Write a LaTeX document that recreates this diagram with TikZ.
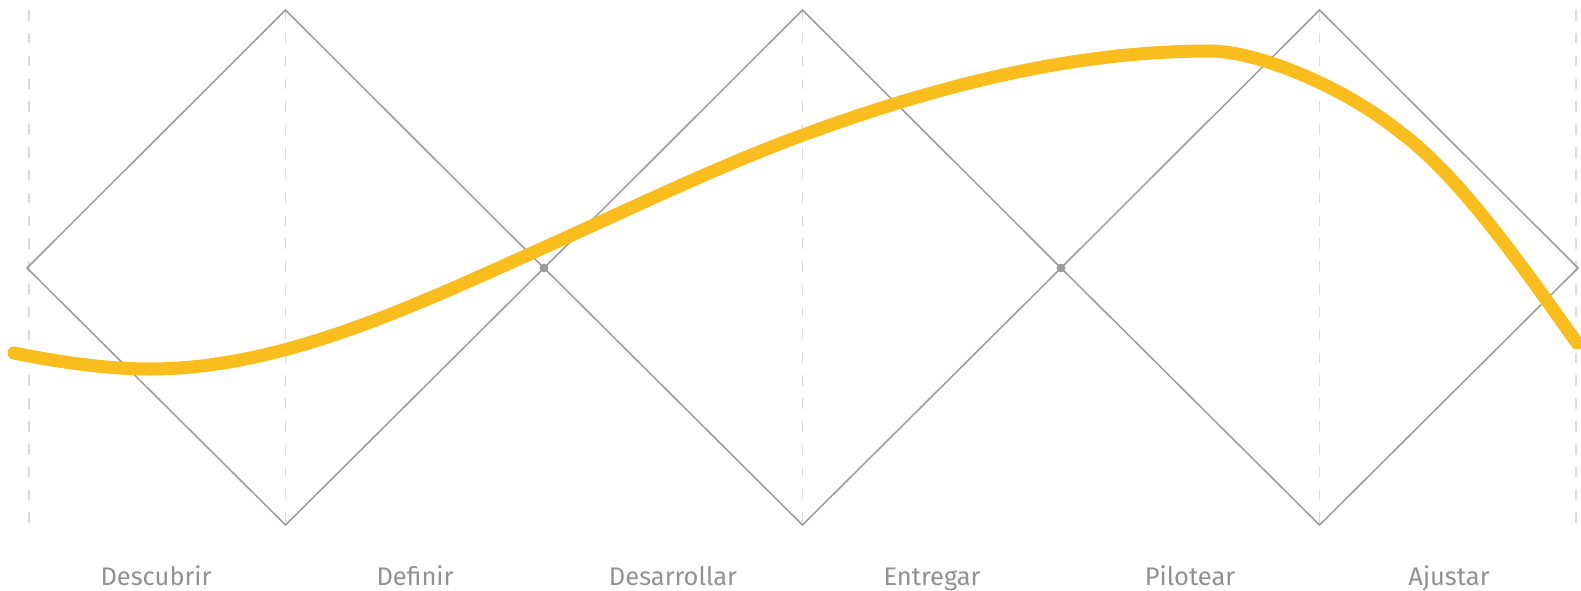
\documentclass[tikz,border=0pt]{standalone}
\usepackage{fontspec}
\setmainfont{Fira Sans}
\usetikzlibrary{calc}
\usepackage{xcolor}
\definecolor{journeyyellow}{RGB}{250,189,30}
\definecolor{diamgray}{RGB}{155,155,155}
\definecolor{guidegray}{RGB}{218,218,218}
\definecolor{phasegray}{RGB}{145,145,145}

\begin{document}
\begin{tikzpicture}[
  x=0.02cm, y=-0.02cm,
  diam/.style={draw=diamgray, line width=0.85pt, line join=miter},
  guide/.style={draw=guidegray, line width=0.6pt, dash pattern=on 6pt off 7pt},
  journey/.style={draw=journeyyellow, line width=7.4pt, line cap=round},
  joint/.style={circle, fill=diamgray, inner sep=0pt, minimum size=5pt},
  phase/.style={text=phasegray, font=\fontsize{14.5}{16}\selectfont, anchor=base}
]
\useasboundingbox (0,0) rectangle (1581,591);

\coordinate (v0) at (27,268);
\coordinate (t1) at (285.5,10);
\coordinate (b1) at (285.5,525);
\coordinate (v1) at (544,268);
\coordinate (t2) at (802.5,10);
\coordinate (b2) at (802.5,525);
\coordinate (v2) at (1061,268);
\coordinate (t3) at (1319.5,10);
\coordinate (b3) at (1319.5,525);
\coordinate (v3) at (1578,268);

\foreach \gx in {29,285.5,802.5,1319.5,1576}
  \draw[guide] (\gx,10) -- (\gx,525);

\draw[diam] (v0) -- (t1) -- (v1) -- (b1) -- cycle;
\draw[diam] (v1) -- (t2) -- (v2) -- (b2) -- cycle;
\draw[diam] (v2) -- (t3) -- (v3) -- (b3) -- cycle;

\draw[journey] (14,353) .. controls (59,362) and (105,369) .. (150,369)
  .. controls (281,369) and (412,307) .. (543,248)
  .. controls (630,209) and (716,167) .. (803,135)
  .. controls (939,85) and (1074,51) .. (1210,51)
  .. controls (1255,51) and (1340,84) .. (1400,132)
  .. controls (1459,176) and (1518,260) .. (1577,343);

\node[joint] (j1) at (v1) {};
\node[joint] (j2) at (v2) {};

\node[phase] (descubrir) at (156,585) {Descubrir};
\node[phase] (definir) at (415,585) {Definir};
\node[phase] (desarrollar) at (673,585) {Desarrollar};
\node[phase] (entregar) at (932,585) {Entregar};
\node[phase] (pilotear) at (1190,585) {Pilotear};
\node[phase] (ajustar) at (1449,585) {Ajustar};
\end{tikzpicture}
\end{document}
